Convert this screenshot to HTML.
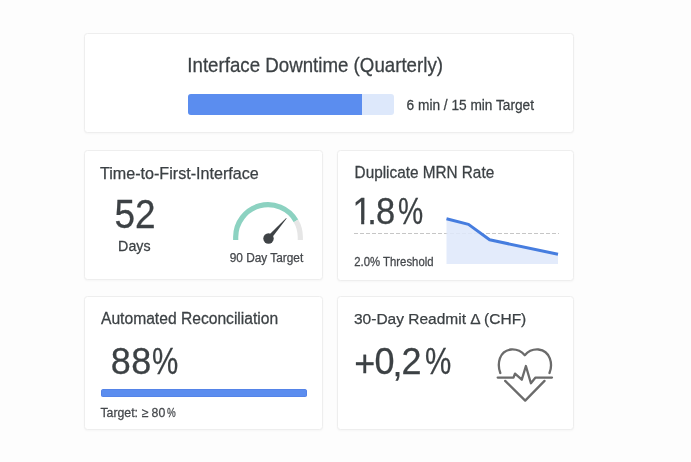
<!DOCTYPE html>
<html>
<head>
<meta charset="utf-8">
<style>
html,body{margin:0;padding:0;}
body{width:691px;height:462px;background:#fdfdfd;position:relative;overflow:hidden;font-family:"Liberation Sans",Arial,sans-serif;color:#3c4144;}
.card{position:absolute;background:#fff;border:1px solid #eeeeee;border-radius:3.5px;box-shadow:0 1px 2px rgba(0,0,0,0.03);box-sizing:border-box;}
.t{position:absolute;white-space:nowrap;line-height:1;transform-origin:0 0.8467em;-webkit-text-stroke:0.25px currentColor;}
.p{display:inline-block;transform-origin:0 0;}
.s{color:#44474b;}
.one{display:inline-block;clip-path:polygon(0 0,100% 0,100% 0.74em,0.3398em 0.74em,0.3398em 1.2em,0.2515em 1.2em,0.2515em 0.74em,0 0.74em);}
svg{position:absolute;left:0;top:0;overflow:visible;}
</style>
</head>
<body>
<div class="card" style="left:84px;top:33px;width:490px;height:100px;"></div>
<div class="card" style="left:84px;top:150px;width:239px;height:130px;"></div>
<div class="card" style="left:337px;top:150px;width:237px;height:131px;"></div>
<div class="card" style="left:84px;top:296px;width:239px;height:134px;"></div>
<div class="card" style="left:337px;top:296px;width:237px;height:134px;"></div>
<div class="t" style="left:187.30px;top:56.81px;font-size:18.72px;transform:scaleY(1.065);">Interface Downtime (Quarterly)</div>
<div style="position:absolute;left:188px;top:94px;width:206px;height:21px;background:#dde8fb;border-radius:3px;"></div>
<div style="position:absolute;left:188px;top:94px;width:174px;height:21px;background:#5b8def;border-radius:3px 0 0 3px;"></div>
<div class="t" style="left:406.60px;top:98.87px;font-size:13.68px;transform:scaleY(1.070);">6 min / 15 min Target</div>
<div class="t" style="left:100.00px;top:164.90px;font-size:16.12px;">Time-to-First-Interface</div>
<div class="t" style="left:114.40px;top:196.84px;font-size:37.00px;transform:scaleY(1.090);">52</div>
<div class="t" style="left:118.10px;top:239.43px;font-size:14.25px;transform:scaleY(1.086);">Days</div>
<svg width="691" height="462" viewBox="0 0 691 462"><path d="M235.7 240 L235.7 237 A32.3 32.3 0 0 1 295.97 220.85" fill="none" stroke="#8cd2c1" stroke-width="5.2"/><path d="M295.97 220.85 A32.3 32.3 0 0 1 300.3 237 L300.3 240" fill="none" stroke="#e6e6e6" stroke-width="5.2"/><path d="M266.85 236.95 L286.2 218.1 L286.6 218.5 L270.15 239.95 Z" fill="#3f4346"/><circle cx="268.5" cy="238.5" r="5.2" fill="#3f4346"/></svg>
<div class="t" style="left:229.70px;top:252.96px;font-size:11.85px;color:#45484c;">90 Day Target</div>
<div class="t" style="left:354.60px;top:165.15px;font-size:15.32px;transform:scaleY(1.050);">Duplicate MRN Rate</div>
<div class="t" style="left:352.50px;top:194.99px;font-size:34.50px;transform:scaleY(1.050);"><span class="one" style="margin-right:-4.5px">1</span><span style="margin-right:-0.78px">.</span><span style="margin-right:3.0px">8</span><span class="p" style="transform:scaleX(0.82);">%</span></div>
<svg width="691" height="462" viewBox="0 0 691 462"><line x1="354" y1="233.5" x2="559" y2="233.5" stroke="#c6c6c6" stroke-width="1" stroke-dasharray="4 2"/><path d="M446.5 218.7 L468.5 224.4 L489.6 239.8 L558 254.3 L558 264 L446.5 264 Z" fill="#dfe8fb" fill-opacity="0.88"/><path d="M446.5 218.7 L468.5 224.4 L489.6 239.8 L558 254.3" fill="none" stroke="#467ddf" stroke-width="3" stroke-linejoin="round"/></svg>
<div class="t" style="left:354.30px;top:257.09px;font-size:11.35px;transform:scaleY(1.100);color:#45484c;">2.0% Threshold</div>
<div class="t" style="left:101.00px;top:311.31px;font-size:15.64px;transform:scaleY(1.023);">Automated Reconciliation</div>
<div class="t" style="left:110.64px;top:343.52px;font-size:36.00px;transform:scaleY(1.045);"><span style="margin-right:0.58px">8</span><span style="margin-right:0.69px">8</span><span class="p" style="transform:scaleX(0.82);">%</span></div>
<div style="position:absolute;left:100.6px;top:389px;width:206.2px;height:8px;background:#5b8def;border-radius:2.5px;box-shadow:inset 0 0 0 0.6px rgba(70,110,215,0.55);"></div>
<div class="t" style="left:100.40px;top:407.49px;font-size:12.30px;transform:scaleY(1.050);color:#45484c;">Target: ≥ 80<span class="p" style="margin-left:1.6px;transform:scaleX(0.8)">%</span></div>
<div class="t" style="left:354.00px;top:311.18px;font-size:15.50px;">30-Day Readmit Δ (CHF)</div>
<div class="t" style="left:354.34px;top:343.72px;font-size:36.00px;transform:scaleY(1.040);"><span style="margin-right:-0.97px;position:relative;top:2.0px">+</span><span style="margin-right:-2.03px">0</span><span style="margin-right:-1.0px;position:relative;top:1.5px">,</span><span style="margin-right:3.55px">2</span><span class="p" style="transform:scaleX(0.82);">%</span></div>
<svg width="691" height="462" viewBox="0 0 691 462" fill="none" stroke="#6b6b6b" stroke-width="2.3" stroke-linecap="round" stroke-linejoin="round"><path d="M500.3 373 C497 364 499 351 511 349.5 C518 349 522 352 524.8 355.2 C527.5 352 531.5 349 538.5 349.5 C550.5 351 553 364 549.5 373"/><path d="M497.7 377.6 L513.5 377.6 L515 373.6 L521.8 379.7 L525.9 366 L530.9 383.2 L535.5 377.6 L552 377.6"/><path d="M505.2 380.9 L525.2 400.6 L544.5 380.9"/></svg>
</body>
</html>
